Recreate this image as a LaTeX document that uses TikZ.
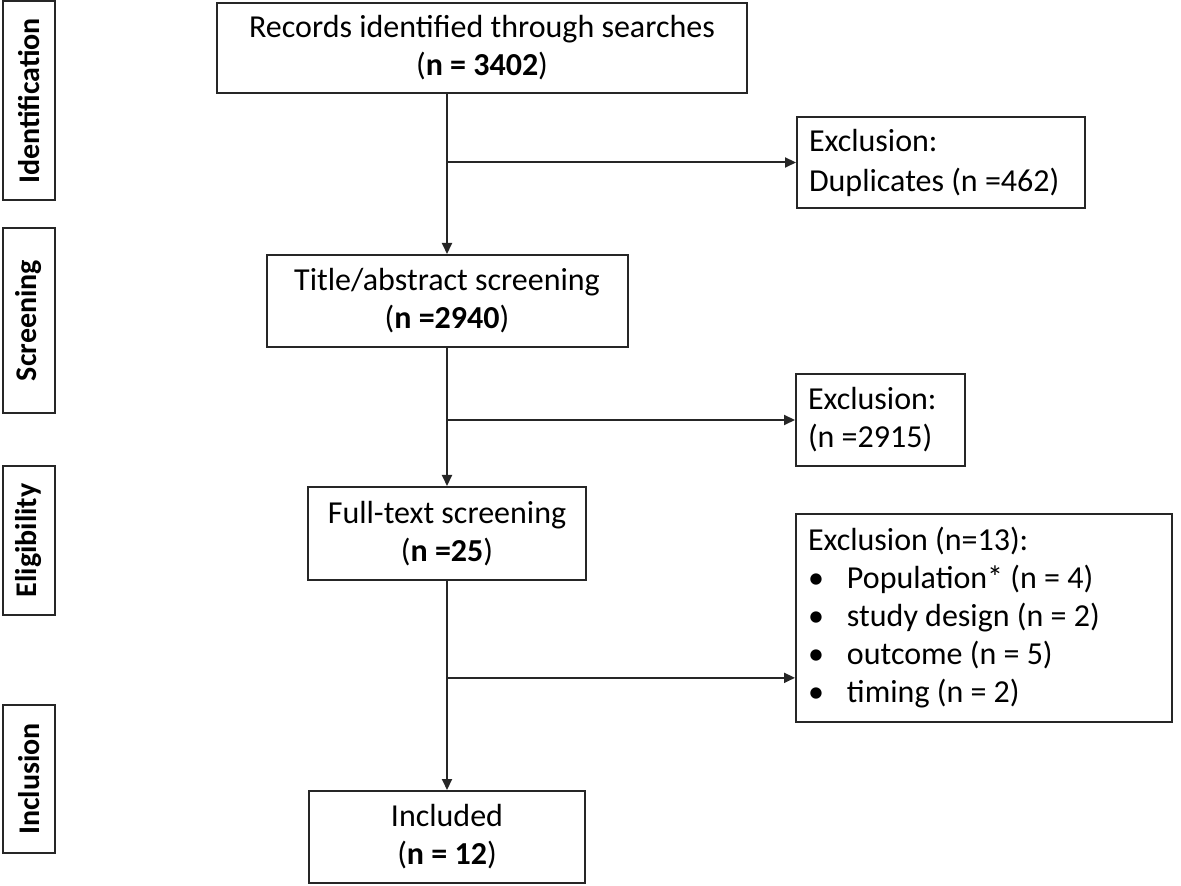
\documentclass[tikz,border=0pt]{standalone}
\usepackage{fontspec}
\setmainfont{Carlito}
\usetikzlibrary{arrows.meta, calc}
\newcommand{\normsp}{\spaceskip=0pt\xspaceskip=0pt\relax}

\begin{document}
\begin{tikzpicture}[x=0.5pt, y=-0.5pt,
    stage/.style={draw=black!85, line width=1pt, font=\fontsize{16}{19}\selectfont, align=center, inner sep=0pt},
    excl/.style={draw=black!85, line width=1pt, font=\fontsize{16}{19}\selectfont, align=flush left, inner xsep=6pt, inner ysep=0pt},
    phase/.style={draw=black!85, line width=1pt, font=\fontsize{15}{18}\selectfont\bfseries, rotate=90, inner sep=0pt, minimum height=26pt},
    flow/.style={draw=black!85, line width=1pt, -{Triangle[length=5.5pt, width=5pt]}}
]
\useasboundingbox (0,0) rectangle (1181,886);

% Phase labels
\node[phase, minimum width=99.5pt] (idf) at (29,101) {Identification};
\node[phase, minimum width=92.5pt] (scr) at (29,320.5) {Screening};
\node[phase, minimum width=74.5pt] (elg) at (29,540.5) {Eligibility};
\node[phase, minimum width=74pt] (inl) at (29,779) {Inclusion};

% Main flow
\node[stage, minimum width=265pt, minimum height=45pt] (rec) at (482,48)
    {\normsp Records identified through searches\\(\textbf{n = 3402})};
\node[stage, minimum width=180.5pt, minimum height=46pt] (title) at (447,301)
    {\normsp Title/abstract screening\\(\textbf{n =2940})};
\node[stage, minimum width=139pt, minimum height=46.5pt] (full) at (447,533.5)
    {\normsp Full-text screening\\(\textbf{n =25})};
\node[stage, minimum width=138pt, minimum height=46pt] (inc) at (447,837)
    {\normsp Included\\(\textbf{n = 12})};

% Exclusions
\node[excl, text width=132pt, minimum height=45.5pt] (ex1) at (941,162.5)
    {\normsp Exclusion:\\[1pt]Duplicates (n =462)};
\node[excl, text width=72.5pt, minimum height=46pt] (ex2) at (880.5,420)
    {\normsp Exclusion:\\(n =2915)};
\node[excl, text width=176pt, minimum height=104pt] (ex3) at (984,618)
    {\normsp Exclusion (n=13):\\
     \makebox[19.5pt][l]{•}Population* (n = 4)\\
     \makebox[19.5pt][l]{•}study design (n = 2)\\
     \makebox[19.5pt][l]{•}outcome (n = 5)\\
     \makebox[19.5pt][l]{•}timing (n = 2)};

% Connectors
\draw[flow] (rec.south -| title.north) -- (title.north);
\draw[flow] (ex1.west -| title.north) -- (ex1.west);
\draw[flow] (title.south) -- (full.north);
\draw[flow] (ex2.west -| title.south) -- (ex2.west);
\draw[flow] (full.south) -- (inc.north);
\coordinate (b3) at ($(ex3.south west)!0.215!(ex3.north west)$);
\draw[flow] (b3 -| full.south) -- (b3);

\end{tikzpicture}
\end{document}
